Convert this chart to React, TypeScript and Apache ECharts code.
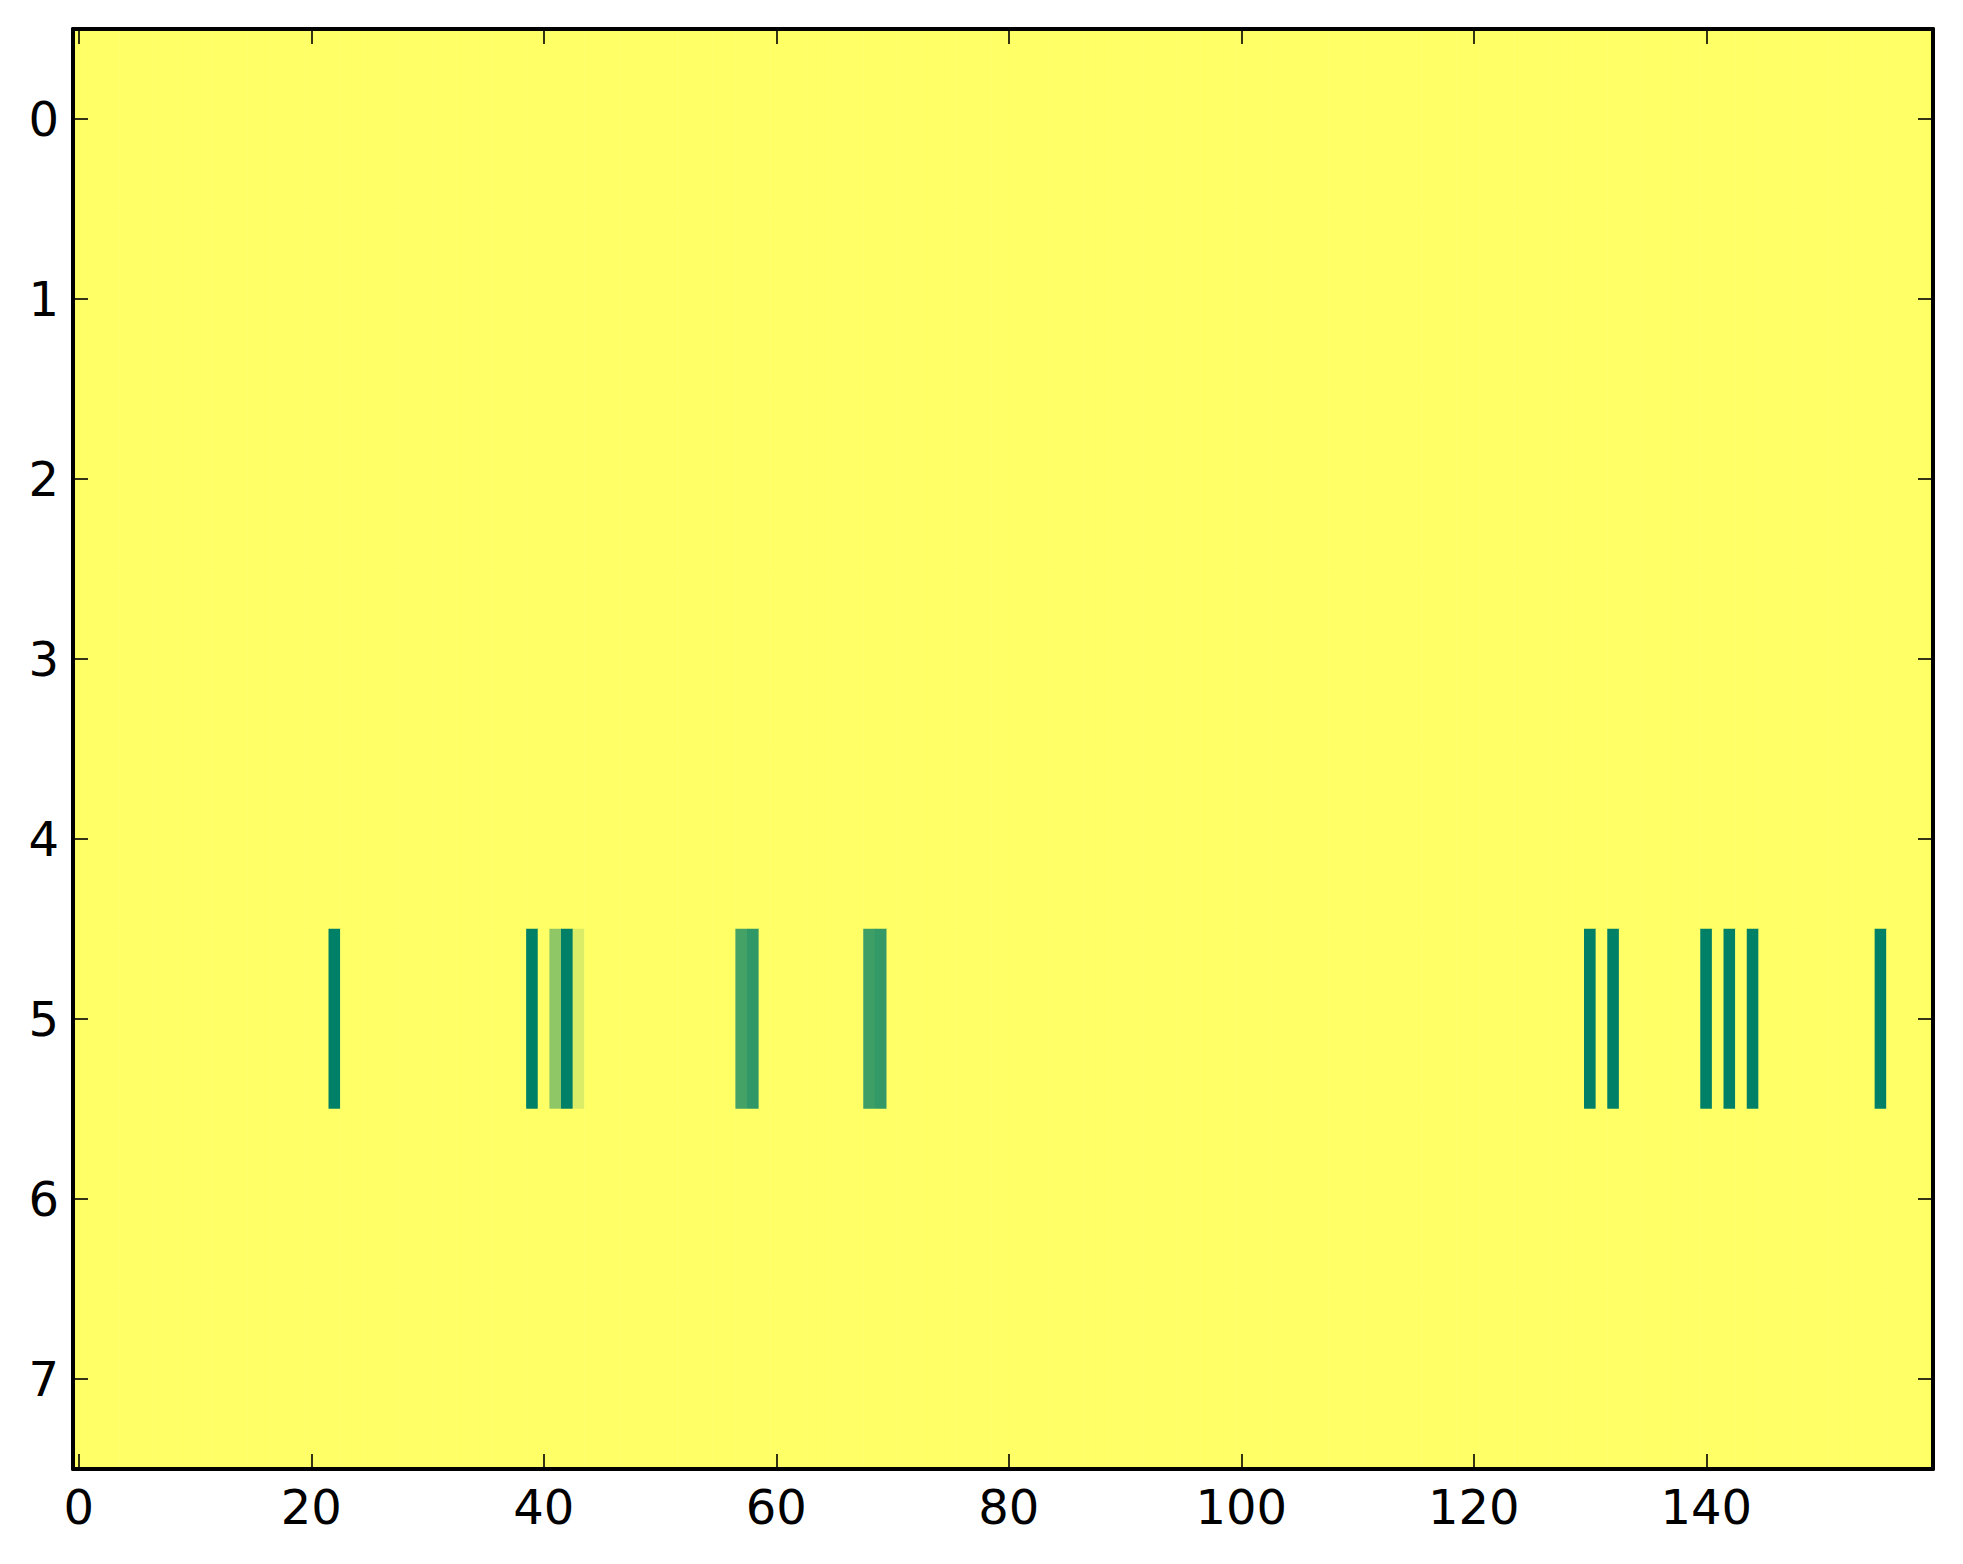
import { useEffect, useRef } from 'react'
import * as echarts from 'echarts'

// image is 8 rows x 160 columns, almost all at the top of the scale
const rowLabels = ['0', '1', '2', '3', '4', '5', '6', '7']
const colCount = 160
const baseValue = 1

// only row 5 has anything below the max
const stripeRow = 5
const stripeCols = [22, 39, 41, 42, 43, 57, 58, 68, 69, 130, 132, 140, 142, 144, 155]
const stripeValues = [0, 0, 0.56, 0, 0.86, 0.27, 0.19, 0.24, 0.2, 0, 0, 0, 0, 0, 0]

const xTickStep = 20

const colLabels = Array.from({ length: colCount }, (_, i) => String(i))

function buildCells() {
  const cells: number[][] = []
  for (let r = 0; r < rowLabels.length; r++) {
    for (let c = 0; c < colCount; c++) {
      let v = baseValue
      if (r === stripeRow) {
        const k = stripeCols.indexOf(c)
        if (k >= 0) v = stripeValues[k]
      }
      cells.push([c, r, v])
    }
  }
  return cells
}

const font = { fontFamily: 'DejaVu Sans', fontSize: 48, color: '#000' }
const axisLine = { show: true, lineStyle: { color: '#000', width: 4 } }
const tick = { show: true, inside: true, length: 15, lineStyle: { color: '#000', width: 1.6 } }

export default function App() {
  const chartRef = useRef<HTMLDivElement>(null)

  useEffect(() => {
    if (!chartRef.current) return
    const chart = echarts.init(chartRef.current, undefined, { renderer: 'svg' })
    const everyTwenty = (i: number) => i % xTickStep === 0

    chart.setOption({
      animation: false,
      backgroundColor: '#fff',
      grid: { left: 73, top: 29, width: 1860, height: 1440 },
      visualMap: {
        show: false,
        type: 'continuous',
        min: 0,
        max: 1,
        dimension: 2,
        seriesIndex: 0,
        inRange: { color: ['#008066', '#ffff66'] },
      },
      xAxis: [
        {
          type: 'category',
          data: colLabels,
          position: 'bottom',
          z: 10,
          axisLine,
          axisTick: { ...tick, interval: everyTwenty, alignWithLabel: true },
          axisLabel: { ...font, interval: everyTwenty, margin: 14 },
          splitLine: { show: false },
        },
        {
          type: 'category',
          data: colLabels,
          position: 'top',
          z: 10,
          axisLine,
          axisTick: { ...tick, interval: everyTwenty, alignWithLabel: true },
          axisLabel: { show: false },
          splitLine: { show: false },
        },
      ],
      yAxis: [
        {
          type: 'category',
          data: rowLabels,
          inverse: true,
          position: 'left',
          z: 10,
          axisLine,
          axisTick: { ...tick, alignWithLabel: true },
          axisLabel: { ...font, margin: 14 },
          splitLine: { show: false },
        },
        {
          type: 'category',
          data: rowLabels,
          inverse: true,
          position: 'right',
          z: 10,
          axisLine,
          axisTick: { ...tick, alignWithLabel: true },
          axisLabel: { show: false },
          splitLine: { show: false },
        },
      ],
      series: [
        {
          type: 'heatmap',
          xAxisIndex: 0,
          yAxisIndex: 0,
          data: buildCells(),
          itemStyle: { borderWidth: 0 },
          emphasis: { disabled: true },
        },
      ],
    })

    return () => chart.dispose()
  }, [])

  return (
    <div
      ref={chartRef}
      style={{ position: 'fixed', left: 0, top: 0, width: 1963, height: 1564 }}
    />
  )
}
